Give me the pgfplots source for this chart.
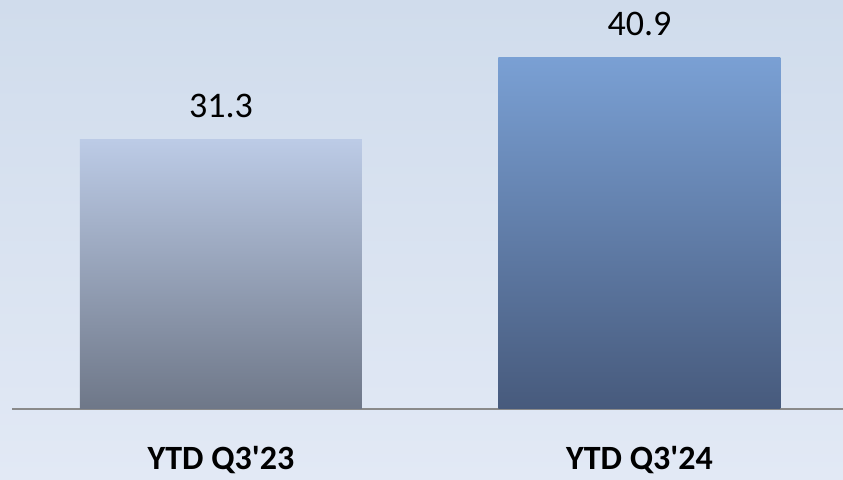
\documentclass[border=0pt]{standalone}
\usepackage{pgfplots}
\pgfplotsset{compat=1.18}
\usepackage{fontspec}
\setmainfont{Carlito}

\definecolor{bgtop}{HTML}{D0DCEC}
\definecolor{bgbot}{HTML}{E2E9F5}
\definecolor{oldtop}{HTML}{BCCBE6}
\definecolor{oldmid}{HTML}{A2ADC5}
\definecolor{oldbot}{HTML}{6E7788}
\definecolor{newtop}{HTML}{7AA0D4}
\definecolor{newmid}{HTML}{6788B4}
\definecolor{newbot}{HTML}{475A7C}
\definecolor{baseln}{HTML}{8A8A8A}

\begin{document}
\begin{tikzpicture}
  \useasboundingbox (0,0) rectangle (843bp,480bp);
  \shade[top color=bgtop, bottom color=bgbot] (0,0) rectangle (843bp,480bp);
  \begin{axis}[
    at={(12bp,71bp)}, anchor=south west,
    scale only axis,
    width=831bp, height=409bp,
    xmin=-0.4994, xmax=1.4863,
    ymin=0, ymax=47.59,
    ybar, bar width=282bp,
    axis x line=bottom, axis y line=none,
    x axis line style={-, draw=baseln, line width=1.5bp},
    xtick={0,1},
    xticklabels={YTD Q3\textquotesingle 23, YTD Q3\textquotesingle 24},
    major tick length=0pt,
    xticklabel style={font=\fontsize{34bp}{40bp}\selectfont\bfseries,
      anchor=base, inner sep=0pt, yshift=-60bp},
    ytick=\empty,
    nodes near coords,
    every node near coord/.append style={font=\fontsize{36bp}{42bp}\selectfont,
      anchor=base, inner sep=0pt, yshift=22bp, text=black},
    /pgf/number format/.cd, fixed, fixed zerofill, precision=1, assume math mode=true,
  ]
    \addplot[bar shift=0pt, draw=none, shade, top color=oldtop, middle color=oldmid, bottom color=oldbot]
      coordinates {(0,31.3)};
    \addplot[bar shift=0pt, draw=none, shade, top color=newtop, middle color=newmid, bottom color=newbot]
      coordinates {(1,40.9)};
  \end{axis}
\end{tikzpicture}
\end{document}
